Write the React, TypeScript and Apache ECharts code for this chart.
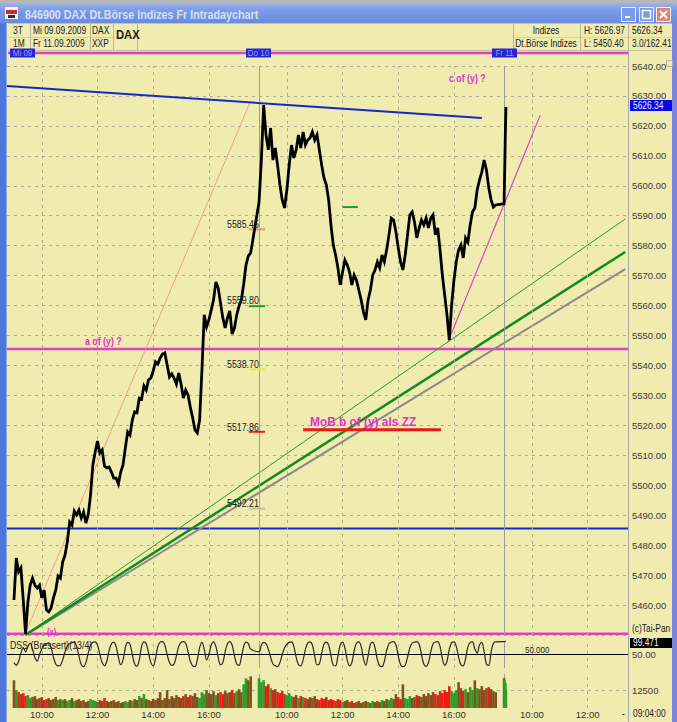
import React, { useEffect, useRef } from 'react';
import * as echarts from 'echarts';

// ---------- data ----------
// minute offset of each trading day's 09:00 on the shared x scale
const DAY_START = [0, 528, 1056];
const DAY_STEP = [5, 5, 1];

const day1Close = [
  5461.7, 5475.7, 5471.1, 5472.4, 5461.7, 5450.4, 5461.0, 5466.7, 5469.0, 5466.7,
  5465.7, 5466.7, 5462.4, 5465.0, 5458.4, 5457.7, 5459.0, 5462.4, 5465.0, 5469.7,
  5469.0, 5474.4, 5476.7, 5481.1, 5487.7, 5486.7, 5491.4, 5490.1, 5491.7, 5489.1,
  5491.1, 5487.4, 5490.1, 5496.8, 5506.8, 5511.1, 5514.8, 5510.8, 5511.8, 5506.4,
  5505.8, 5506.1, 5504.4, 5502.4, 5502.4, 5500.4, 5504.4, 5506.8, 5512.5, 5517.8,
  5516.8, 5521.8, 5524.5, 5524.2, 5529.1, 5528.8, 5533.2, 5531.8, 5535.2, 5535.8,
  5538.2, 5541.2, 5540.5, 5542.5, 5543.8, 5544.2, 5540.2, 5536.2, 5537.2, 5535.8,
  5533.8, 5537.5, 5533.8, 5529.1, 5531.8, 5530.2, 5526.1, 5522.5, 5518.5, 5517.5,
  5521.8, 5538.5, 5556.9, 5552.9, 5555.2, 5558.5, 5561.9, 5567.9, 5565.9, 5560.9,
  5555.9, 5552.5, 5555.9, 5558.2, 5550.5, 5552.5, 5556.9, 5559.9, 5561.9, 5567.2,
  5573.6, 5576.6, 5577.6,
];
const day2Close = [
  5594.5, 5608.6, 5626.97, 5617.0, 5612.0, 5619.3, 5608.6, 5612.6, 5606.9, 5600.3,
  5595.3, 5592.6, 5598.6, 5606.9, 5613.6, 5609.3, 5612.0, 5617.0, 5612.6, 5618.0,
  5613.6, 5615.3, 5616.0, 5618.0, 5615.3, 5617.0, 5612.0, 5606.9, 5602.6, 5600.3,
  5595.3, 5586.9, 5580.2, 5576.9, 5572.6, 5566.9, 5571.2, 5575.2, 5573.6, 5571.2,
  5566.9, 5570.2, 5568.5, 5565.2, 5561.9, 5557.9, 5555.2, 5561.9, 5565.2, 5570.2,
  5571.9, 5574.6, 5572.6, 5576.9, 5574.6, 5578.6, 5583.6, 5589.2, 5588.6, 5584.6,
  5579.2, 5574.6, 5571.9, 5576.9, 5583.6, 5590.3, 5591.3, 5587.9, 5582.6, 5585.9,
  5588.6, 5586.9, 5589.2, 5585.9, 5589.2, 5590.3, 5583.6, 5585.9, 5578.6, 5570.2,
  5563.5, 5556.9, 5548.5, 5560.2, 5568.5, 5574.6, 5578.6, 5580.2, 5575.9, 5582.6,
  5581.2, 5586.9, 5591.3, 5592.6, 5598.6, 5601.9, 5604.6, 5608.6, 5605.3, 5599.3,
  5595.3, 5592.9, 5593.6,
];
const day3Close = [5594.0, 5602.5, 5611.0, 5619.5, 5626.34];

const day1Dss = [
  20, 10, 25, 55, 75, 60, 80, 92, 70, 40, 25, 50, 70, 85, 90, 93, 75, 40, 15, 8,
  10, 30, 60, 82, 90, 94, 96, 80, 45, 12, 5, 20, 55, 85, 95, 97, 85, 50, 20, 8,
  25, 65, 90, 96, 80, 40, 12, 30, 75, 95, 88, 50, 15, 6, 30, 80, 97, 90, 55, 20,
  8, 35, 80, 96, 98, 85, 50, 20, 10, 15, 45, 80, 95, 98, 92, 60, 25, 8, 5, 30,
  75, 95, 70, 30, 50, 85, 97, 80, 40, 12, 20, 60, 90, 98, 85, 45, 15, 10, 40, 80,
  96, 90, 70,
];
const day2Dss = [
  60, 85, 95, 90, 70, 40, 15, 8, 5, 20, 50, 75, 88, 95, 97, 80, 40, 12, 8, 30,
  70, 92, 97, 85, 45, 12, 15, 55, 88, 96, 85, 45, 10, 8, 45, 85, 96, 75, 30, 8,
  20, 65, 92, 97, 80, 35, 10, 45, 88, 96, 75, 30, 8, 5, 25, 65, 90, 96, 98, 85,
  45, 12, 5, 10, 40, 75, 92, 96, 98, 88, 50, 15, 6, 20, 60, 90, 96, 98, 80, 35,
  10, 25, 70, 94, 97, 80, 40, 12, 8, 35, 78, 95, 97, 70, 55, 85, 95, 60, 15, 10,
  60, 92, 97,
];
const day3Dss = [98.0, 99.0, 99.3, 99.4, 99.471];

const day1Volume = [
  19600, 12600, 11200, 9800, 10500, 8400, 9100, 7000, 7700, 8400, 6300, 7000, 7700, 5600, 6300,
  7000, 5600, 6300, 7700, 5600, 6300, 5600, 6300, 4900, 5600, 7000, 4900, 5600, 6300, 4900,
  5600, 4200, 4900, 6300, 5600, 4900, 4200, 5600, 4900, 7000, 4900, 4200, 4900, 5600, 4200,
  4900, 3500, 4200, 4900, 4200, 5600, 4900, 6300, 5600, 8400, 7000, 9800, 6300, 5600, 4900,
  6300, 5600, 7000, 11200, 5600, 7000, 12600, 6300, 8400, 7000, 9100, 7700, 7000, 8400, 9800,
  7700, 9100, 8400, 10500, 7700, 7000, 11200, 9800, 12600, 10500, 9800, 11900, 9100, 10500, 11200,
  9800, 11900, 10500, 11200, 12600, 10500, 11900, 13300, 11200, 16800, 21000, 19600, 22400,
];
const day2Volume = [
  21000, 18200, 19600, 15400, 16800, 14000, 12600, 13300, 11200, 10500, 11900,
  9800, 9100, 10500, 8400, 7700, 9100, 7000, 8400, 7700, 7000, 6300, 7700, 7000, 8400, 6300,
  5600, 7000, 6300, 7700, 5600, 6300, 5600, 4900, 6300, 5600, 4200, 4900, 5600, 4200, 4900,
  3500, 4200, 4900, 3500, 4200, 4900, 4200, 3500, 4900, 4200, 4900, 4200, 5600, 4900, 6300,
  5600, 7000, 6300, 9800, 7700, 6300, 16800, 7000, 6300, 8400, 7000, 7700, 9100, 8400, 7700,
  9800, 8400, 10500, 9100, 11200, 9800, 9100, 11900, 10500, 12600, 11200, 15400, 11900, 10500,
  12600, 18200, 14000, 11900, 13300, 11200, 14700, 12600, 19600, 14000, 13300, 15400, 12600,
  14000, 14700, 13300, 11900, 11200,
];
const day3Volume = [21000, 19600, 14000, 17500, 12600];

// x-axis label times (minutes after 09:00 of each day)
const labelMinutes = [60, 180, 300, 420];
const priceTicks = { min: 5450, max: 5640, step: 10 };

// drawn analysis lines: [x(minute slot), price]
const resistanceLine = [[-15, 5633.3], [1008, 5622.6]];
const thinGreenLine = [[24, 5450.0], [1317, 5588.9]];
const thickGreenLine = [[24, 5450.0], [1317, 5577.9]];
const grayLine = [[26, 5450.0], [1317, 5572.2]];
const salmonLine = [[24, 5450.4], [508, 5627.6]];
const magentaRise = [[935, 5547.8], [1134, 5623.6]];
const blueLevel = 5485.6;
const magentaLevelA = 5545.5;
const magentaLevelX = 5450.4;
const fibLevels = [5585.45, 5559.8, 5538.7, 5517.86, 5492.21];
const fibLabels = ['5585.45', '5559.80', '5538.70', '5517.86', '5492.21'];
const fibColors = ['#E8907A', '#229A3A', '#F0E84A', '#E82020', '#C8C098'];
const fibRange = [506, 541];
const greenMarker = [[709, 5592.9], [741, 5592.9]];
const mobLine = [[623, 5518.5], [920, 5518.5]];

// ---------- helpers ----------
const X_MIN = -15;
const X_MAX = 1323;
const FONT = "'Liberation Sans', Arial, sans-serif";
const BG = '#F0ECB0';
const SX = 0.84; // horizontal squeeze to mimic the narrow Tahoma-like UI font

function toPoints(days: number[][]) {
  const pts: number[][] = [];
  days.forEach((arr, d) => arr.forEach((v, i) => pts.push([DAY_START[d] + i * DAY_STEP[d], v])));
  return pts;
}

function timeLabel(v: number) {
  let d = 0;
  for (let k = 0; k < DAY_START.length; k++) if (v >= DAY_START[k]) d = k;
  const m = v - DAY_START[d];
  const h = 9 + Math.floor(m / 60);
  return `${h}:${String(m % 60).padStart(2, '0')}`;
}

function txt(x: number, y: number, text: string, o: any = {}) {
  return {
    type: 'text',
    x,
    y,
    z: 100,
    scaleX: o.sx ?? SX,
    silent: true,
    style: {
      text,
      fill: o.fill || '#202020',
      fontSize: o.size || 10,
      fontWeight: o.weight || 'normal',
      fontFamily: o.family || FONT,
      align: o.align || 'left',
      verticalAlign: 'middle',
    },
  };
}
function rect(x: number, y: number, w: number, h: number, fill: any, o: any = {}) {
  return { type: 'rect', z: o.z ?? 90, silent: true, shape: { x, y, width: w, height: h }, style: { fill, stroke: o.stroke, lineWidth: o.lw || 1 } };
}
function ln(x1: number, y1: number, x2: number, y2: number, stroke: string, w = 1, o: any = {}) {
  return { type: 'line', z: o.z ?? 95, silent: true, shape: { x1, y1, x2, y2 }, style: { stroke, lineWidth: w, lineDash: o.dash } };
}

export default function App() {
  const ref = useRef<HTMLDivElement>(null);

  useEffect(() => {
    if (!ref.current) return;
    const chart = echarts.init(ref.current, undefined, { renderer: 'svg' });

    const pricePts = toPoints([day1Close, day2Close, day3Close]);
    const dssPts = toPoints([day1Dss, day2Dss, day3Dss]);
    const closes = [day1Close, day2Close, day3Close];
    const volPts: any[] = [];
    [day1Volume, day2Volume, day3Volume].forEach((arr, d) =>
      arr.forEach((v, i) => {
        const c = closes[d][i];
        const prev = i > 0 ? closes[d][i - 1] : d > 0 ? closes[d - 1][closes[d - 1].length - 1] : c;
        const diff = c - prev;
        const color = diff > 4 ? '#2AA02A' : diff < -4 ? '#F41818' : '#84501E';
        volPts.push({ value: [DAY_START[d] + i * DAY_STEP[d], v], itemStyle: { color } });
      })
    );

    const gridMinutes: number[] = [];
    DAY_START.forEach((s) => labelMinutes.forEach((m) => gridMinutes.push(s + m)));
    const vLineData = () => [
      ...gridMinutes.map((v) => ({ xAxis: v, lineStyle: { color: '#B0AC90', type: [3, 4], width: 1 } })),
      ...DAY_START.slice(1).map((v) => ({ xAxis: v, lineStyle: { color: '#9C9C9C', type: 'solid', width: 1 } })),
    ];
    const markLineOf = (extra: any[] = []) => ({
      silent: true,
      symbol: ['none', 'none'],
      label: { show: false },
      animation: false,
      data: [...vLineData(), ...extra],
    });

    const seg = (data: number[][], color: string, width: number, z = 4) => ({
      type: 'line',
      xAxisIndex: 0,
      yAxisIndex: 0,
      data,
      symbol: 'none',
      silent: true,
      z,
      lineStyle: { color, width },
    });
    const hLine = (v: number, color: string, width: number) => seg([[X_MIN, v], [X_MAX, v]], color, width, 3);

    const g: any[] = [];
    // title bar
    g.push(rect(0, 0, 677, 3, '#B8B8B8', { z: 80 }));
    g.push(
      rect(0, 3, 677, 20, new echarts.graphic.LinearGradient(0, 0, 0, 1, [
        { offset: 0, color: '#9CB4F0' },
        { offset: 0.35, color: '#7C9CE6' },
        { offset: 1, color: '#6A8ADC' },
      ]), { z: 80 })
    );
    g.push(rect(5, 7, 13, 12, '#F4F4F4', { z: 85 }));
    g.push(rect(6, 10, 11, 4, '#D02828', { z: 86 }));
    g.push(rect(8, 15, 7, 3, '#303030', { z: 86 }));
    g.push(txt(25, 14, '846900 DAX Dt.Börse Indizes Fr Intradaychart', { fill: '#D4E0FA', size: 12.5, weight: 'bold', sx: 0.86 }));
    // window buttons
    g.push(rect(621.5, 7.5, 14, 14, '#7A9CEC', { stroke: '#E8F0FF', z: 85 }));
    g.push(rect(625, 16, 5, 2, '#FFFFFF', { z: 86 }));
    g.push(rect(639.5, 7.5, 14, 14, '#7A9CEC', { stroke: '#E8F0FF', z: 85 }));
    g.push(rect(642.5, 10.5, 8, 8, 'none', { stroke: '#FFFFFF', z: 86, lw: 1.5 }));
    g.push(rect(656.5, 7.5, 14, 14, '#E2856E', { stroke: '#FFF0EC', z: 85 }));
    g.push(ln(660, 11, 667, 18, '#FFFFFF', 2, { z: 86 }));
    g.push(ln(667, 11, 660, 18, '#FFFFFF', 2, { z: 86 }));
    // window borders
    g.push(rect(0, 23, 6, 699, '#4C76DA', { z: 80 }));
    g.push(ln(6.5, 23, 6.5, 722, '#8CA8E8', 1, { z: 80 }));
    g.push(rect(672, 23, 5, 699, '#7E80DE', { z: 80 }));
    // header cells
    g.push(ln(8, 23.5, 672, 23.5, '#C8C4A0'));
    g.push(ln(8, 37.5, 137, 37.5, '#D4D0AC'));
    g.push(ln(513, 37.5, 672, 37.5, '#D8D4B0'));
    [30.5, 90.5, 113.5, 137.5, 513.5, 580.5, 628.5].forEach((x) => g.push(ln(x, 24, x, 50, '#B8B498')));
    g.push(ln(8, 50.5, 672, 50.5, '#C8C4A0'));
    g.push(txt(13, 31, '3T'));
    g.push(txt(13, 44, '1M'));
    g.push(txt(33, 31, 'Mi 09.09.2009'));
    g.push(txt(33, 44, 'Fr 11.09.2009'));
    g.push(txt(92, 31, 'DAX'));
    g.push(txt(92, 44, 'XXP'));
    g.push(txt(116, 35, 'DAX', { size: 12.5, weight: 'bold', sx: 0.9 }));
    g.push(txt(546, 31, 'Indizes', { align: 'center' }));
    g.push(txt(546, 44, 'Dt.Börse Indizes', { align: 'center' }));
    g.push(txt(584, 31, 'H: 5626.97'));
    g.push(txt(584, 44, 'L: 5450.40'));
    g.push(txt(632, 31, '5626.34'));
    g.push(txt(632, 44, '3.0/162.41'));
    // date strip
    g.push(ln(8, 53, 628, 53, '#E040C4', 2.5));
    [['Mi 09', 10], ['Do 10', 246], ['Fr 11', 492]].forEach(([s, x]: any) => {
      g.push(rect(x, 48.5, 25, 9, '#2424D8', { z: 96 }));
      g.push(txt(x + 12.5, 53, s, { fill: '#9C9CFF', size: 9.5, align: 'center' }));
    });
    // right price panel
    g.push(ln(628.5, 51, 628.5, 722, '#A8A8A8', 1));
    g.push(rect(666.5, 60.5, 6, 6, 'none', { stroke: '#B0B0B0' }));
    g.push(rect(630, 100, 42, 11, '#0A0AE8', { z: 96 }));
    g.push(txt(633, 105.5, '5626.34', { fill: '#E8E8FF' }));
    g.push(txt(632, 629, '(c)Tai-Pan'));
    g.push(rect(630, 638, 42, 10, '#000000', { z: 96 }));
    g.push(txt(633, 643, '99.471', { fill: '#FFFFFF' }));
    g.push(txt(622, 714, '-'));
    g.push(txt(633, 714, '09:04:00'));
    // annotations
    const MAG = '#E030D0';
    g.push(txt(85, 341, 'a of (y) ?', { fill: MAG, size: 10.5, weight: 'bold' }));
    g.push(txt(449, 78, 'c of (y) ?', { fill: MAG, size: 10.5, weight: 'bold' }));
    g.push(txt(310, 421, 'MoB b of (y) als ZZ', { fill: MAG, size: 13.5, weight: 'bold', sx: 0.88 }));
    g.push(txt(47, 632, '(x)', { fill: MAG, size: 9, weight: 'bold' }));
    const fibTextY = [224, 300, 364, 427, 503];
    fibLabels.forEach((s, i) => g.push(txt(227, fibTextY[i], s, { size: 10.5 })));
    g.push(txt(10, 645, 'DSS (Bressert)(13/4)', { size: 10.5 }));
    g.push(txt(525, 650, '50.000', { size: 9.5 }));

    const xAxisBase = (i: number) => ({
      type: 'value',
      gridIndex: i,
      min: X_MIN,
      max: X_MAX,
      axisLine: { show: false },
      axisTick: { show: false },
      splitLine: { show: false },
      axisLabel: { show: false },
    });
    const yLabel = { color: '#3A3A3A', fontSize: 9.5, fontFamily: FONT, margin: 4 };

    chart.setOption({
      animation: false,
      backgroundColor: BG,
      textStyle: { fontFamily: FONT },
      grid: [
        { left: 7, right: 49, top: 66, height: 569 },
        { left: 7, right: 49, top: 641, height: 27 },
        { left: 7, right: 49, top: 674, height: 34 },
      ],
      xAxis: [
        xAxisBase(0),
        xAxisBase(1),
        {
          ...xAxisBase(2),
          axisLabel: {
            show: true,
            customValues: gridMinutes,
            formatter: (v: number) => timeLabel(v),
            color: '#303030',
            fontSize: 9.5,
            fontFamily: FONT,
            margin: 1.5,
          },
        },
      ],
      yAxis: [
        {
          type: 'value',
          gridIndex: 0,
          position: 'right',
          min: priceTicks.min,
          max: priceTicks.max,
          interval: priceTicks.step,
          axisLine: { show: false },
          axisTick: { show: true, length: 3, lineStyle: { color: '#A0A0A0' } },
          axisLabel: {
            ...yLabel,
            formatter: (v: number) => (v === priceTicks.min ? '' : v.toFixed(2)),
          },
          splitLine: { show: true, lineStyle: { color: '#B0AC90', type: [3, 4] } },
        },
        {
          type: 'value',
          gridIndex: 1,
          position: 'right',
          min: 0,
          max: 100,
          axisLine: { show: false },
          axisTick: { show: false },
          splitLine: { show: false },
          axisLabel: { ...yLabel, customValues: [50], formatter: () => '50.00' },
        },
        {
          type: 'value',
          gridIndex: 2,
          position: 'right',
          min: 0,
          max: 24000,
          axisLine: { show: false },
          axisTick: { show: false },
          splitLine: { show: false },
          axisLabel: { ...yLabel, customValues: [12500], formatter: () => '12500' },
        },
      ],
      series: [
        {
          type: 'line',
          name: 'DAX',
          xAxisIndex: 0,
          yAxisIndex: 0,
          data: pricePts,
          symbol: 'none',
          z: 6,
          lineStyle: { color: '#000000', width: 2.8, join: 'miter' },
          markLine: markLineOf(),
        },
        hLine(magentaLevelA, '#E040C4', 2.5),
        hLine(magentaLevelX, '#E040C4', 2.5),
        hLine(blueLevel, '#1828C8', 2),
        seg(resistanceLine, '#1828C0', 2, 5),
        seg(salmonLine, '#EAA48A', 1, 4),
        seg(thinGreenLine, '#2A9A2A', 1, 4),
        seg(grayLine, '#8A8A8A', 2, 4),
        seg(thickGreenLine, '#128A22', 2.5, 4),
        seg(magentaRise, '#E040C4', 1.2, 5),
        ...fibLevels.map((lv, i) => seg([[fibRange[0], lv], [fibRange[1], lv]], fibColors[i], 2, 5)),
        seg(greenMarker, '#229A3A', 2, 5),
        seg(mobLine, '#E81A1A', 3, 5),
        {
          type: 'line',
          name: 'DSS',
          xAxisIndex: 1,
          yAxisIndex: 1,
          data: dssPts,
          symbol: 'none',
          smooth: 0.35,
          z: 5,
          lineStyle: { color: '#2A2A2A', width: 1.2 },
          markLine: markLineOf([{ yAxis: 50, lineStyle: { color: '#000000', type: 'solid', width: 1 } }]),
        },
        {
          type: 'bar',
          name: 'Volume',
          xAxisIndex: 2,
          yAxisIndex: 2,
          data: volPts,
          barWidth: 2.6,
          z: 5,
          markLine: markLineOf([{ yAxis: 12500, lineStyle: { color: '#B0AC90', type: [3, 4], width: 1 } }]),
        },
      ],
      graphic: g,
    });

    return () => chart.dispose();
  }, []);

  return <div ref={ref} style={{ position: 'fixed', left: 0, top: 0, width: 677, height: 722 }} />;
}
